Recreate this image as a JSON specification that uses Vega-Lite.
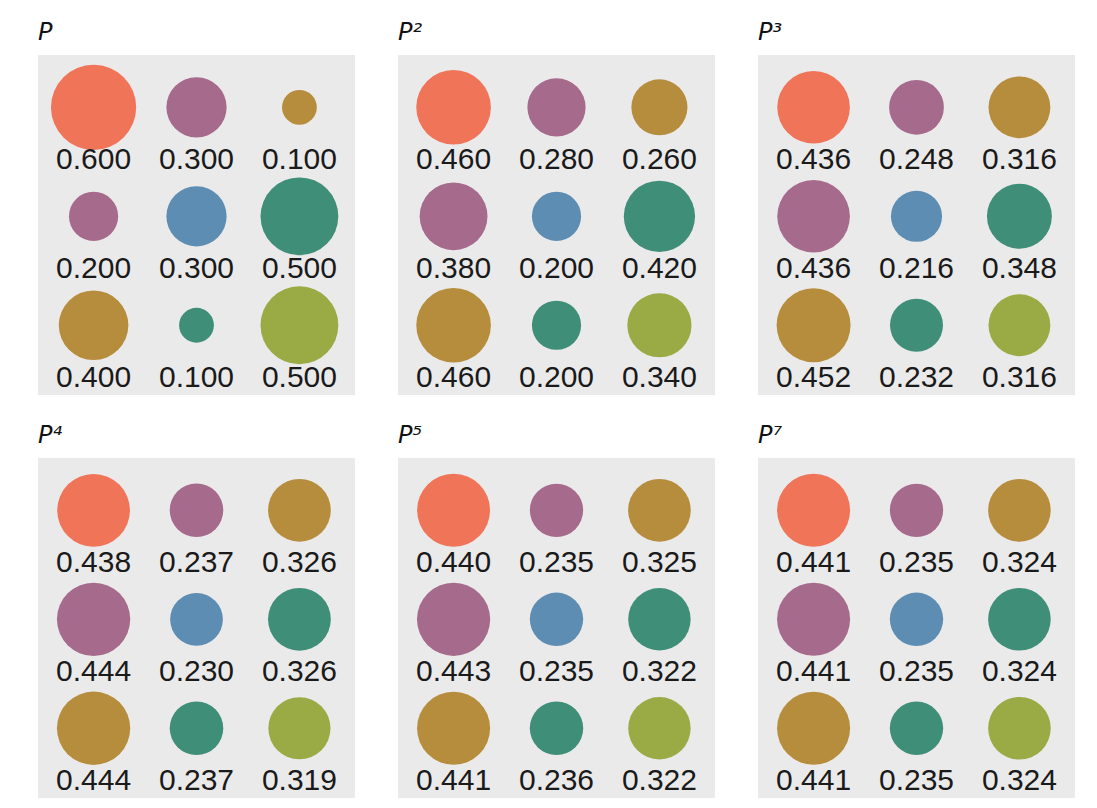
{
  "$schema": "https://vega.github.io/schema/vega-lite/v6.json",
  "padding": {"left": 38, "top": 21, "right": 5, "bottom": 2},
  "background": "white",
  "data": {"values": [
    {"panel": "P", "row": 0, "col": 0, "tone": "coral", "value": 0.600},
    {"panel": "P", "row": 0, "col": 1, "tone": "mauve", "value": 0.300},
    {"panel": "P", "row": 0, "col": 2, "tone": "ochre", "value": 0.100},
    {"panel": "P", "row": 1, "col": 0, "tone": "mauve", "value": 0.200},
    {"panel": "P", "row": 1, "col": 1, "tone": "blue", "value": 0.300},
    {"panel": "P", "row": 1, "col": 2, "tone": "teal", "value": 0.500},
    {"panel": "P", "row": 2, "col": 0, "tone": "ochre", "value": 0.400},
    {"panel": "P", "row": 2, "col": 1, "tone": "teal", "value": 0.100},
    {"panel": "P", "row": 2, "col": 2, "tone": "olive", "value": 0.500},
    {"panel": "P²", "row": 0, "col": 0, "tone": "coral", "value": 0.460},
    {"panel": "P²", "row": 0, "col": 1, "tone": "mauve", "value": 0.280},
    {"panel": "P²", "row": 0, "col": 2, "tone": "ochre", "value": 0.260},
    {"panel": "P²", "row": 1, "col": 0, "tone": "mauve", "value": 0.380},
    {"panel": "P²", "row": 1, "col": 1, "tone": "blue", "value": 0.200},
    {"panel": "P²", "row": 1, "col": 2, "tone": "teal", "value": 0.420},
    {"panel": "P²", "row": 2, "col": 0, "tone": "ochre", "value": 0.460},
    {"panel": "P²", "row": 2, "col": 1, "tone": "teal", "value": 0.200},
    {"panel": "P²", "row": 2, "col": 2, "tone": "olive", "value": 0.340},
    {"panel": "P³", "row": 0, "col": 0, "tone": "coral", "value": 0.436},
    {"panel": "P³", "row": 0, "col": 1, "tone": "mauve", "value": 0.248},
    {"panel": "P³", "row": 0, "col": 2, "tone": "ochre", "value": 0.316},
    {"panel": "P³", "row": 1, "col": 0, "tone": "mauve", "value": 0.436},
    {"panel": "P³", "row": 1, "col": 1, "tone": "blue", "value": 0.216},
    {"panel": "P³", "row": 1, "col": 2, "tone": "teal", "value": 0.348},
    {"panel": "P³", "row": 2, "col": 0, "tone": "ochre", "value": 0.452},
    {"panel": "P³", "row": 2, "col": 1, "tone": "teal", "value": 0.232},
    {"panel": "P³", "row": 2, "col": 2, "tone": "olive", "value": 0.316},
    {"panel": "P⁴", "row": 0, "col": 0, "tone": "coral", "value": 0.438},
    {"panel": "P⁴", "row": 0, "col": 1, "tone": "mauve", "value": 0.237},
    {"panel": "P⁴", "row": 0, "col": 2, "tone": "ochre", "value": 0.326},
    {"panel": "P⁴", "row": 1, "col": 0, "tone": "mauve", "value": 0.444},
    {"panel": "P⁴", "row": 1, "col": 1, "tone": "blue", "value": 0.230},
    {"panel": "P⁴", "row": 1, "col": 2, "tone": "teal", "value": 0.326},
    {"panel": "P⁴", "row": 2, "col": 0, "tone": "ochre", "value": 0.444},
    {"panel": "P⁴", "row": 2, "col": 1, "tone": "teal", "value": 0.237},
    {"panel": "P⁴", "row": 2, "col": 2, "tone": "olive", "value": 0.319},
    {"panel": "P⁵", "row": 0, "col": 0, "tone": "coral", "value": 0.440},
    {"panel": "P⁵", "row": 0, "col": 1, "tone": "mauve", "value": 0.235},
    {"panel": "P⁵", "row": 0, "col": 2, "tone": "ochre", "value": 0.325},
    {"panel": "P⁵", "row": 1, "col": 0, "tone": "mauve", "value": 0.443},
    {"panel": "P⁵", "row": 1, "col": 1, "tone": "blue", "value": 0.235},
    {"panel": "P⁵", "row": 1, "col": 2, "tone": "teal", "value": 0.322},
    {"panel": "P⁵", "row": 2, "col": 0, "tone": "ochre", "value": 0.441},
    {"panel": "P⁵", "row": 2, "col": 1, "tone": "teal", "value": 0.236},
    {"panel": "P⁵", "row": 2, "col": 2, "tone": "olive", "value": 0.322},
    {"panel": "P⁷", "row": 0, "col": 0, "tone": "coral", "value": 0.441},
    {"panel": "P⁷", "row": 0, "col": 1, "tone": "mauve", "value": 0.235},
    {"panel": "P⁷", "row": 0, "col": 2, "tone": "ochre", "value": 0.324},
    {"panel": "P⁷", "row": 1, "col": 0, "tone": "mauve", "value": 0.441},
    {"panel": "P⁷", "row": 1, "col": 1, "tone": "blue", "value": 0.235},
    {"panel": "P⁷", "row": 1, "col": 2, "tone": "teal", "value": 0.324},
    {"panel": "P⁷", "row": 2, "col": 0, "tone": "ochre", "value": 0.441},
    {"panel": "P⁷", "row": 2, "col": 1, "tone": "teal", "value": 0.235},
    {"panel": "P⁷", "row": 2, "col": 2, "tone": "olive", "value": 0.324}
  ]},
  "facet": {
    "field": "panel",
    "type": "nominal",
    "sort": ["P", "P²", "P³", "P⁴", "P⁵", "P⁷"],
    "header": {
      "title": null,
      "labelAlign": "left",
      "labelAnchor": "start",
      "labelFont": "DejaVu Sans",
      "labelFontStyle": "italic",
      "labelFontSize": 24,
      "labelColor": "#111111",
      "labelPadding": 10
    }
  },
  "columns": 3,
  "spacing": {"column": 43, "row": 29},
  "spec": {
    "width": 317,
    "height": 340,
    "encoding": {
      "x": {"field": "col", "type": "quantitative", "scale": {"domain": [-0.54, 2.54]}, "axis": null},
      "y": {"field": "row", "type": "quantitative", "scale": {"domain": [-0.48, 2.64], "reverse": true}, "axis": null}
    },
    "layer": [
      {
        "mark": {"type": "circle", "opacity": 1, "strokeWidth": 0},
        "encoding": {
          "size": {"field": "value", "type": "quantitative", "scale": {"type": "linear", "domain": [0, 1], "range": [0, 12100]}, "legend": null},
          "color": {"field": "tone", "type": "nominal", "legend": null,
            "scale": {"domain": ["coral", "mauve", "ochre", "blue", "teal", "olive"],
                      "range": ["#f07458", "#a66a8c", "#b68d3c", "#5e8db3", "#3f8e78", "#9aab45"]}}
        }
      },
      {
        "mark": {"type": "text", "dy": 53, "font": "Liberation Sans", "fontSize": 30, "color": "#1a1a1a", "baseline": "middle", "align": "center"},
        "encoding": {
          "text": {"field": "value", "type": "quantitative", "format": ".3f"}
        }
      }
    ]
  },
  "config": {
    "view": {"fill": "#ebeaea", "stroke": null}
  }
}
